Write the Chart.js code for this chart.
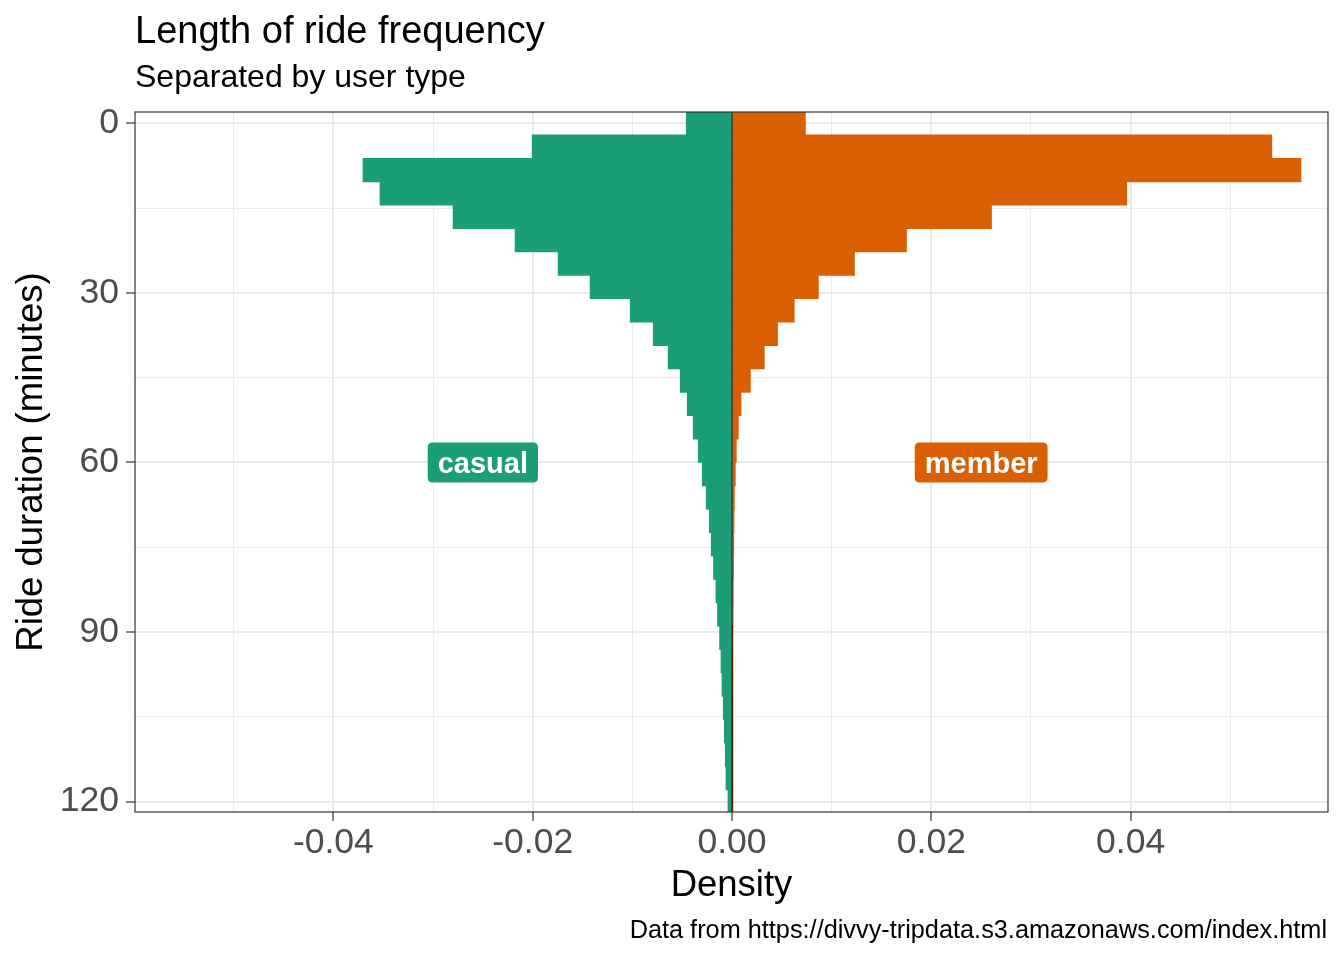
<!DOCTYPE html>
<html>
<head>
<meta charset="utf-8">
<script src="https://cdn.jsdelivr.net/npm/chart.js@4.4.1/dist/chart.umd.min.js"></script>
<style>
html,body{margin:0;padding:0;background:#ffffff;}
canvas{display:block;}
</style>
</head>
<body>
<canvas id="c" width="1344" height="960" style="width:1344px;height:960px"></canvas>
<script>
// ---------- data ----------
const binCenters = [0, 4.138, 8.276, 12.414, 16.552, 20.690, 24.828, 28.966, 33.103, 37.241,
  41.379, 45.517, 49.655, 53.793, 57.931, 62.069, 66.207, 70.345, 74.483, 78.621,
  82.759, 86.897, 91.034, 95.172, 99.310, 103.448, 107.586, 111.724, 115.862, 120.000];

const casualDensity = [-0.00459, -0.02005, -0.03702, -0.03531, -0.02798, -0.02176, -0.01744, -0.01423, -0.01021, -0.00790,
  -0.00640, -0.00519, -0.00449, -0.00389, -0.00338, -0.00298, -0.00258, -0.00228, -0.00208, -0.00185,
  -0.00161, -0.00145, -0.00124, -0.00110, -0.00100, -0.00087, -0.00077, -0.00067, -0.00060, -0.00040];

const memberDensity = [0.00736, 0.05416, 0.05708, 0.03960, 0.02603, 0.01750, 0.01228, 0.00866, 0.00624, 0.00456,
  0.00324, 0.00184, 0.00090, 0.00063, 0.00043, 0.00033, 0.00023, 0.00020, 0.00017, 0.00015,
  0.00013, 0.00012, 0.00004, 0.00003, 0.00003, 0.00002, 0.00002, 0.00002, 0.00001, 0.00001];

const seriesNames = ['casual', 'member'];
const seriesColors = ['#1B9E77', '#D95F02'];
const labelX = [-0.025, 0.025];
const labelY = [60, 60];

const xMajorTicks = [-0.04, -0.02, 0, 0.02, 0.04];
const xMinorTicks = [-0.05, -0.03, -0.01, 0.01, 0.03, 0.05];
const yMajorTicks = [0, 30, 60, 90, 120];
const yMinorTicks = [15, 45, 75, 105];

const titleText = 'Length of ride frequency';
const subtitleText = 'Separated by user type';
const xTitleText = 'Density';
const yTitleText = 'Ride duration (minutes)';
const captionText = 'Data from https://divvy-tripdata.s3.amazonaws.com/index.html';

// ---------- styling ----------
const FONT = '"Liberation Sans", Arial, Helvetica, sans-serif';
Chart.defaults.font.family = FONT;

const isIn = (arr, v) => arr.some(m => Math.abs(m - v) < 1e-9);

const decor = {
  id: 'decor',
  afterDatasetsDraw(chart) {
    const {ctx, chartArea: a, scales: {x, y}} = chart;
    ctx.save();
    // zero line
    const x0 = x.getPixelForValue(0);
    ctx.strokeStyle = '#000000';
    ctx.lineWidth = 1.2;
    ctx.beginPath();
    ctx.moveTo(x0, a.top);
    ctx.lineTo(x0, a.bottom);
    ctx.stroke();
    // labels
    ctx.font = 'bold 29px ' + FONT;
    ctx.textAlign = 'center';
    ctx.textBaseline = 'alphabetic';
    for (let i = 0; i < seriesNames.length; i++) {
      const cx = x.getPixelForValue(labelX[i]);
      const cy = y.getPixelForValue(labelY[i]);
      const w = ctx.measureText(seriesNames[i]).width + 20;
      const h = 40;
      const l = cx - w / 2, t = cy - h / 2, r = 5;
      ctx.beginPath();
      ctx.moveTo(l + r, t);
      ctx.lineTo(l + w - r, t);
      ctx.quadraticCurveTo(l + w, t, l + w, t + r);
      ctx.lineTo(l + w, t + h - r);
      ctx.quadraticCurveTo(l + w, t + h, l + w - r, t + h);
      ctx.lineTo(l + r, t + h);
      ctx.quadraticCurveTo(l, t + h, l, t + h - r);
      ctx.lineTo(l, t + r);
      ctx.quadraticCurveTo(l, t, l + r, t);
      ctx.closePath();
      ctx.fillStyle = seriesColors[i];
      ctx.fill();
      ctx.fillStyle = '#ffffff';
      ctx.fillText(seriesNames[i], cx, cy + 10.5);
    }
    // panel border
    ctx.strokeStyle = '#333333';
    ctx.lineWidth = 1.2;
    ctx.strokeRect(a.left, a.top, a.right - a.left, a.bottom - a.top);
    ctx.restore();
  },
  afterDraw(chart) {
    const {ctx, chartArea: a} = chart;
    ctx.save();
    ctx.fillStyle = '#000000';
    ctx.textBaseline = 'alphabetic';
    ctx.textAlign = 'left';
    ctx.font = '38px ' + FONT;
    ctx.fillText(titleText, a.left, 43);
    ctx.font = '32px ' + FONT;
    ctx.fillText(subtitleText, a.left, 87);
    ctx.textAlign = 'center';
    ctx.font = '36.5px ' + FONT;
    ctx.fillText(xTitleText, (a.left + a.right) / 2, 896);
    ctx.save();
    ctx.translate(42, (a.top + a.bottom) / 2);
    ctx.rotate(-Math.PI / 2);
    ctx.fillText(yTitleText, 0, 0);
    ctx.restore();
    ctx.textAlign = 'right';
    ctx.font = '25.3px ' + FONT;
    ctx.fillText(captionText, 1327, 938);
    ctx.restore();
  }
};

new Chart(document.getElementById('c').getContext('2d'), {
  type: 'bar',
  data: {
    datasets: [
      {
        label: seriesNames[0],
        data: binCenters.map((c, i) => ({x: casualDensity[i], y: c})),
        backgroundColor: seriesColors[0],
        grouped: false, barPercentage: 1, categoryPercentage: 1,
        borderWidth: 0, inflateAmount: 0.4
      },
      {
        label: seriesNames[1],
        data: binCenters.map((c, i) => ({x: memberDensity[i], y: c})),
        backgroundColor: seriesColors[1],
        grouped: false, barPercentage: 1, categoryPercentage: 1,
        borderWidth: 0, inflateAmount: 0.4
      }
    ]
  },
  options: {
    indexAxis: 'y',
    responsive: false,
    animation: false,
    devicePixelRatio: 1,
    layout: {padding: {left: 0, top: 112, right: 16, bottom: 0}},
    plugins: {legend: {display: false}, tooltip: {enabled: false}, title: {display: false}},
    scales: {
      x: {
        type: 'linear',
        min: -0.0599, max: 0.0598,
        offset: false,
        afterBuildTicks: s => { s.ticks = [...xMinorTicks, ...xMajorTicks].sort((p, q) => p - q).map(v => ({value: v})); },
        afterFit: s => { s.height = 148; },
        ticks: {
          autoSkip: false, maxRotation: 0, minRotation: 0,
          callback: v => isIn(xMajorTicks, v) ? v.toFixed(2) : '',
          font: {size: 35.5}, color: '#4D4D4D', padding: 1
        },
        grid: {
          offset: false,
          color: '#EBEBEB',
          lineWidth: c => (c.tick && isIn(xMajorTicks, c.tick.value)) ? 2 : 1,
          tickColor: c => (c.tick && isIn(xMajorTicks, c.tick.value)) ? '#333333' : 'rgba(0,0,0,0)',
          tickLength: 9, tickWidth: 1.2, drawTicks: true
        },
        border: {display: false}
      },
      y: {
        type: 'linear',
        reverse: true,
        offset: false,
        min: -2.0, max: 121.85,
        afterBuildTicks: s => { s.ticks = [...yMinorTicks, ...yMajorTicks].sort((p, q) => p - q).map(v => ({value: v})); },
        afterFit: s => { s.width = 135; },
        ticks: {
          autoSkip: false,
          callback: v => isIn(yMajorTicks, v) ? String(v) : '',
          font: {size: 35.5}, color: '#4D4D4D', padding: 7
        },
        grid: {
          offset: false,
          color: '#EBEBEB',
          lineWidth: c => (c.tick && isIn(yMajorTicks, c.tick.value)) ? 2 : 1,
          tickColor: c => (c.tick && isIn(yMajorTicks, c.tick.value)) ? '#333333' : 'rgba(0,0,0,0)',
          tickLength: 9, tickWidth: 1.2, drawTicks: true
        },
        border: {display: false}
      }
    }
  },
  plugins: [decor]
});
</script>
</body>
</html>
